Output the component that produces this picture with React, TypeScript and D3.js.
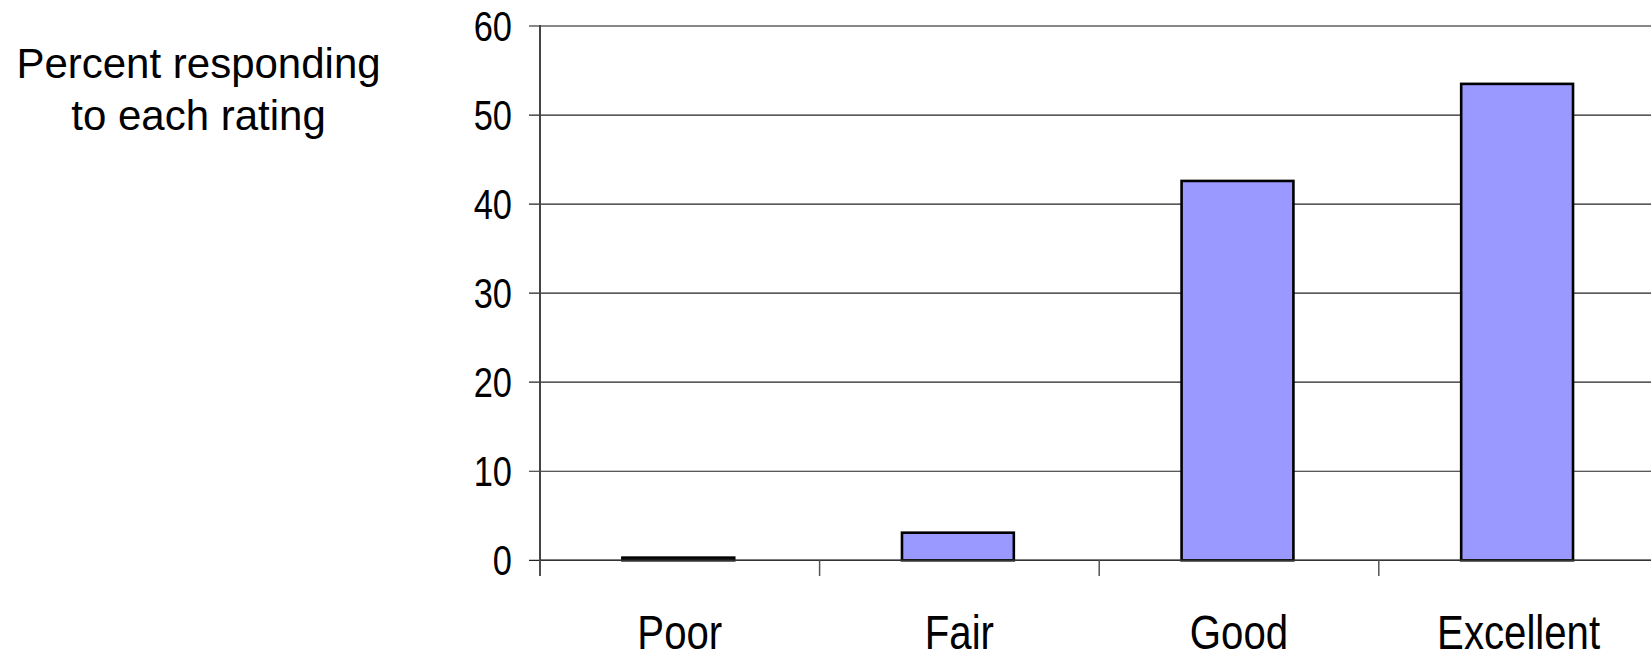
import React from "react";
import * as d3 from "d3";

const categories = ["Poor", "Fair", "Good", "Excellent"];
const values = [0.3, 3.1, 42.6, 53.5];
const yTicks = [0, 10, 20, 30, 40, 50, 60];
const titleLines = ["Percent responding", "to each rating"];

const W = 1651;
const H = 655;
const left = 540;
const step = 279.6;
const yTop = 26;
const yBottom = 560.3;

export default function App() {
  const x = d3
    .scaleBand<string>()
    .domain(categories)
    .range([left, left + step * categories.length])
    .paddingInner(0)
    .paddingOuter(0);
  const y = d3.scaleLinear().domain([0, 60]).range([yBottom, yTop]);
  const barW = x.bandwidth() * 0.4;
  const sans = '"Liberation Sans", Arial, sans-serif';
  const narrowScale = 0.82;

  return (
    <svg
      width={W}
      height={H}
      style={{ position: "absolute", left: 0, top: 0, background: "#fff" }}
    >
      <rect x={0} y={0} width={W} height={H} fill="#fff" />
      {titleLines.map((t, i) => (
        <text
          key={t}
          x={198.5}
          y={78.3 + i * 52}
          textAnchor="middle"
          fontFamily={sans}
          fontSize={42}
          fill="#000"
        >
          {t}
        </text>
      ))}
      {/* gridlines */}
      {yTicks.map((t) => (
        <line
          key={"g" + t}
          x1={left - 11}
          x2={W}
          y1={y(t)}
          y2={y(t)}
          stroke={t === 60 ? "#888" : "#222"}
          strokeWidth={t === 60 ? 2 : 1.2}
        />
      ))}
      {/* y tick labels */}
      {yTicks.map((t) => (
        <text
          key={"l" + t}
          transform={`translate(512,${y(t) + 15}) scale(${narrowScale},1)`}
          textAnchor="end"
          fontFamily={sans}
          fontSize={42}
          fill="#000"
        >
          {t}
        </text>
      ))}
      {/* bars */}
      {categories.map((c, i) => {
        const cx = (x(c) as number) + x.bandwidth() / 2 - 1.5;
        return (
          <rect
            key={"b" + c}
            x={cx - barW / 2}
            y={y(values[i])}
            width={barW}
            height={y(0) - y(values[i])}
            fill="#9999FF"
            stroke="#000"
            strokeWidth={2.6}
          />
        );
      })}
      {/* y axis */}
      <line x1={left} x2={left} y1={yTop - 1} y2={576} stroke="#444" strokeWidth={2} />
      {/* x axis */}
      <line x1={left} x2={W} y1={yBottom} y2={yBottom} stroke="#333" strokeWidth={1.5} />
      {/* category ticks */}
      {categories.map((c) => (
        <line
          key={"t" + c}
          x1={x(c) as number}
          x2={x(c) as number}
          y1={yBottom}
          y2={576}
          stroke="#555"
          strokeWidth={1.5}
        />
      ))}
      {/* category labels */}
      {categories.map((c) => (
        <text
          key={"c" + c}
          transform={`translate(${(x(c) as number) + x.bandwidth() / 2},649) scale(${narrowScale},1)`}
          textAnchor="middle"
          fontFamily={sans}
          fontSize={49}
          fill="#000"
        >
          {c}
        </text>
      ))}
    </svg>
  );
}
